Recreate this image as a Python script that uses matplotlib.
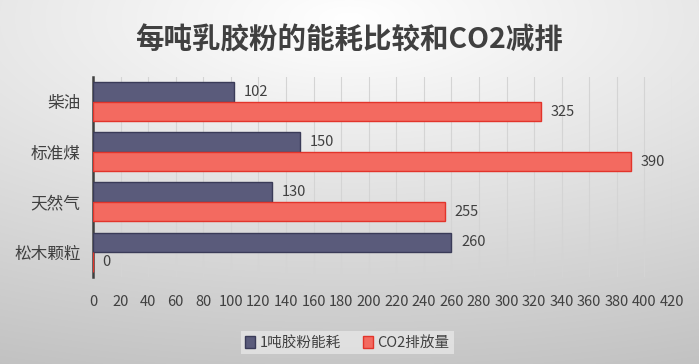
import numpy as np
import matplotlib
matplotlib.use("Agg")
from matplotlib import pyplot as plt

plt.rcParams['font.family'] = ['Noto Sans CJK SC', 'DejaVu Sans']

title = '每吨乳胶粉的能耗比较和CO2减排'
categories = ['柴油', '标准煤', '天然气', '松木颗粒']
series_names = ['1吨胶粉能耗', 'CO2排放量']
energy = [102, 150, 130, 260]
co2 = [325, 390, 255, 0]
xticks = list(range(0, 421, 20))

dark = '#5a5b7b'
dark_edge = '#3a3b58'
red = '#f36a60'
red_edge = '#e2342b'
text_col = '#404040'

fig = plt.figure(figsize=(6.99, 3.64), dpi=100)

# background gradient
bg = fig.add_axes([0, 0, 1, 1], zorder=-10)
yy, xx = np.mgrid[0:1:364j, 0:1:699j]
d = np.sqrt(((xx - 0.5) * 1.0) ** 2 + ((yy - 0.05) * 1.3) ** 2)
d = d / d.max()
shade = 1.0 - 0.24 * d
bg.imshow(np.dstack([shade, shade, shade]), aspect='auto', extent=[0, 1, 1, 0])
bg.set_axis_off()

ax = fig.add_axes([93 / 699, 87 / 364, 579 / 699, 200 / 364])
ax.set_facecolor('none')

y = np.arange(len(categories))
h = 0.39
b1 = ax.barh(y - h / 2, energy, height=h, color=dark, edgecolor=dark_edge, linewidth=1, label=series_names[0], zorder=3)
b2 = ax.barh(y + h / 2, co2, height=h, color=red, edgecolor=red_edge, linewidth=1, label=series_names[1], zorder=3)

for bars, vals in ((b1, energy), (b2, co2)):
    for bar, v in zip(bars, vals):
        ax.text(v + 7, bar.get_y() + bar.get_height() / 2, str(v), va='center', ha='left',
                fontsize=10.5, color=text_col, zorder=4)

ax.set_xlim(0, 420)
ax.set_ylim(len(categories) - 0.5, -0.5)
ax.set_xticks(xticks)
ax.set_xticklabels([str(t) for t in xticks], fontsize=10.5, color=text_col)
ax.set_yticks(y)
ax.set_yticklabels(categories, fontsize=12, color=text_col)
ax.tick_params(axis='both', length=0, pad=9)
ax.tick_params(axis='x', pad=13)
ax.grid(axis='x', color='#d4d4d4', linewidth=0.8, zorder=0)
for s in ['top', 'right', 'bottom']:
    ax.spines[s].set_visible(False)
ax.spines['left'].set_color(text_col)
ax.spines['left'].set_linewidth(1.8)

fig.text(0.5, 0.89, title, ha='center', va='center', fontsize=20.5, fontweight='bold', color=text_col)

leg = fig.legend(handles=[b1, b2], loc='center', bbox_to_anchor=(0.497, 0.058), ncol=2,
                 frameon=True, fontsize=10.5, handlelength=0.7, handleheight=0.9,
                 handletextpad=0.3, columnspacing=1.5, borderpad=0.3, fancybox=False)
leg.get_frame().set_facecolor('#e6e6e6')
leg.get_frame().set_edgecolor('none')
for t in leg.get_texts():
    t.set_color(text_col)

fig.savefig('out.png', dpi=100)
